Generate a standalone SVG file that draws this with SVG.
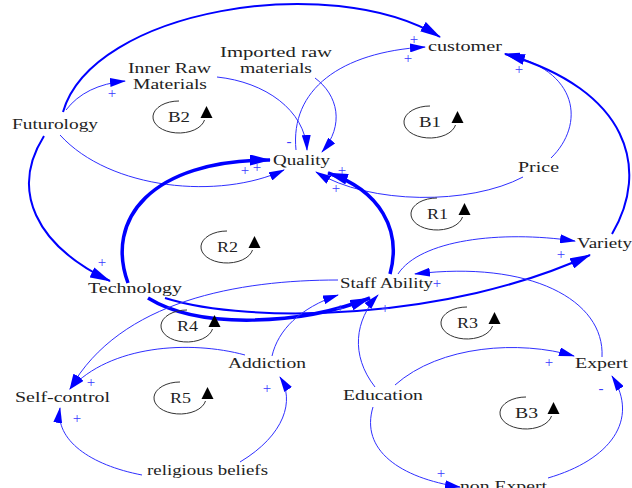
<svg xmlns="http://www.w3.org/2000/svg" xmlns:xlink="http://www.w3.org/1999/xlink" width="632" height="488" viewBox="0 0 632 488">
<style>
.lbl{font-family:"Liberation Serif","Times New Roman","DejaVu Serif",serif;font-size:14.5px;fill:#222}
.sign{font-family:"Liberation Serif","Times New Roman","DejaVu Serif",serif;font-size:15px;fill:#3a3aff;text-anchor:middle}
.c1{fill:none;stroke:#2f2fff;stroke-width:1}
.c2{fill:none;stroke:#0000ff;stroke-width:2}
.c3{fill:none;stroke:#0000ff;stroke-width:3.5}
.loop{fill:none;stroke:#333;stroke-width:1}
</style>
<defs>
<marker id="ah" markerUnits="userSpaceOnUse" markerWidth="16" markerHeight="9" refX="15" refY="4.5" orient="auto"><path d="M0,0 L16,4.5 L0,9 z" fill="#0000ff"/></marker>
<marker id="ahb" markerUnits="userSpaceOnUse" markerWidth="21" markerHeight="11" refX="20" refY="5.5" orient="auto"><path d="M0,0 L21,5.5 L0,11 z" fill="#0000ff"/></marker>
<g id="loopsym"><path class="loop" d="M0,-16 A26 16 0 1 0 25.5,3"/><path d="M27.5,-11 L21.5,1 L33.5,1 z" fill="#000"/></g>
</defs>
<rect width="632" height="488" fill="#fff"/>
<g id="connectors">
<path class="c2" d="M63,112 C92,10 330,-30 440,37" marker-end="url(#ahb)"/>
<path class="c1" d="M66,110 Q85,85 125,81" marker-end="url(#ah)"/>
<path class="c2" d="M44,136 C10,190 35,245 110,281" marker-end="url(#ahb)"/>
<path class="c1" d="M60,135 C110,190 220,200 284,170" marker-end="url(#ah)"/>
<path class="c1" d="M217,77 C265,82 305,110 307,150" marker-end="url(#ah)"/>
<path class="c1" d="M315,78 C338,95 345,125 322,152" marker-end="url(#ah)"/>
<path class="c1" d="M296,150 C290,90 340,52 425,47" marker-end="url(#ah)"/>
<path class="c1" d="M551,158 C585,125 580,70 505,54" marker-end="url(#ah)"/>
<path class="c2" d="M612,234 C650,170 630,90 505,54" marker-end="url(#ahb)"/>
<path class="c1" d="M523,177 C470,205 370,205 316,172" marker-end="url(#ah)"/>
<path class="c3" d="M128,283 C105,220 150,160 270,160" marker-end="url(#ahb)"/>
<path class="c3" d="M390,274 C402,230 380,190 328,173" marker-end="url(#ahb)"/>
<path class="c3" d="M148,298 C200,330 300,325 370,298" marker-end="url(#ahb)"/>
<path class="c2" d="M165,298 C250,325 450,320 590,255" marker-end="url(#ahb)"/>
<path class="c1" d="M398,274 C420,240 500,230 575,241" marker-end="url(#ah)"/>
<path class="c1" d="M602,357 C605,300 530,260 415,274" marker-end="url(#ah)"/>
<path class="c1" d="M272,356 C278,330 300,308 338,295" marker-end="url(#ah)"/>
<path class="c1" d="M375,387 C350,355 355,320 378,295" marker-end="url(#ah)"/>
<path class="c1" d="M338,280 C240,280 120,300 70,389" marker-end="url(#ah)"/>
<path class="c1" d="M245,355 C190,340 110,345 70,389" marker-end="url(#ah)"/>
<path class="c1" d="M142,475 C90,465 55,440 60,408" marker-end="url(#ah)"/>
<path class="c1" d="M240,462 C285,435 295,400 280,377" marker-end="url(#ah)"/>
<path class="c1" d="M395,385 C440,345 520,340 574,356" marker-end="url(#ah)"/>
<path class="c1" d="M373,407 C360,450 400,478 460,487" marker-end="url(#ah)"/>
<path class="c1" d="M548,478 C610,460 640,420 612,376" marker-end="url(#ah)"/>
</g>
<g id="signs">
<text class="sign" x="112" y="98">+</text>
<text class="sign" x="414" y="44">+</text>
<text class="sign" x="408" y="63">+</text>
<text class="sign" x="519" y="74">+</text>
<text class="sign" x="102" y="267">+</text>
<text class="sign" x="245" y="175">+</text>
<text class="sign" x="257" y="172">+</text>
<text class="sign" x="289" y="146">-</text>
<text class="sign" x="342" y="175">+</text>
<text class="sign" x="336" y="193">+</text>
<text class="sign" x="561" y="259">+</text>
<text class="sign" x="437" y="288">+</text>
<text class="sign" x="340" y="313">+</text>
<text class="sign" x="385" y="313">+</text>
<text class="sign" x="91" y="387">+</text>
<text class="sign" x="77" y="423">+</text>
<text class="sign" x="267" y="393">+</text>
<text class="sign" x="549" y="367">+</text>
<text class="sign" x="601" y="393">-</text>
<text class="sign" x="441" y="478">+</text>
</g>
<g id="loops">
<use xlink:href="#loopsym" x="179" y="117"/>
<use xlink:href="#loopsym" x="430" y="122"/>
<use xlink:href="#loopsym" x="437" y="214"/>
<use xlink:href="#loopsym" x="227" y="247"/>
<use xlink:href="#loopsym" x="187" y="326"/>
<use xlink:href="#loopsym" x="467" y="323"/>
<use xlink:href="#loopsym" x="180" y="398"/>
<use xlink:href="#loopsym" x="526" y="413"/>
<text class="lbl" x="168" y="122" textLength="22" lengthAdjust="spacingAndGlyphs">B2</text>
<text class="lbl" x="419" y="127" textLength="22" lengthAdjust="spacingAndGlyphs">B1</text>
<text class="lbl" x="427" y="219" textLength="21" lengthAdjust="spacingAndGlyphs">R1</text>
<text class="lbl" x="217" y="252" textLength="21" lengthAdjust="spacingAndGlyphs">R2</text>
<text class="lbl" x="177" y="331" textLength="21" lengthAdjust="spacingAndGlyphs">R4</text>
<text class="lbl" x="457" y="328" textLength="21" lengthAdjust="spacingAndGlyphs">R3</text>
<text class="lbl" x="170" y="403" textLength="21" lengthAdjust="spacingAndGlyphs">R5</text>
<text class="lbl" x="515" y="418" textLength="23" lengthAdjust="spacingAndGlyphs">B3</text>
</g>
<g id="customer"><text class="lbl" x="428" y="51" textLength="74" lengthAdjust="spacingAndGlyphs">customer</text></g>
<g id="inner-raw-materials"><text class="lbl" x="128" y="73" textLength="83" lengthAdjust="spacingAndGlyphs">Inner Raw</text><text class="lbl" x="133" y="89" textLength="74" lengthAdjust="spacingAndGlyphs">Materials</text></g>
<g id="imported-raw-materials"><text class="lbl" x="220" y="57" textLength="112" lengthAdjust="spacingAndGlyphs">Imported raw</text><text class="lbl" x="240" y="73" textLength="72" lengthAdjust="spacingAndGlyphs">materials</text></g>
<g id="futurology"><text class="lbl" x="12" y="129" textLength="86" lengthAdjust="spacingAndGlyphs">Futurology</text></g>
<g id="quality"><text class="lbl" x="273" y="165" textLength="57" lengthAdjust="spacingAndGlyphs">Quality</text></g>
<g id="price"><text class="lbl" x="518" y="172" textLength="41" lengthAdjust="spacingAndGlyphs">Price</text></g>
<g id="technology"><text class="lbl" x="88" y="293" textLength="94" lengthAdjust="spacingAndGlyphs">Technology</text></g>
<g id="staff-ability"><text class="lbl" x="340" y="288" textLength="93" lengthAdjust="spacingAndGlyphs">Staff Ability</text></g>
<g id="variety"><text class="lbl" x="577" y="248" textLength="55" lengthAdjust="spacingAndGlyphs">Variety</text></g>
<g id="addiction"><text class="lbl" x="228" y="368" textLength="78" lengthAdjust="spacingAndGlyphs">Addiction</text></g>
<g id="self-control"><text class="lbl" x="15" y="402" textLength="95" lengthAdjust="spacingAndGlyphs">Self-control</text></g>
<g id="education"><text class="lbl" x="343" y="400" textLength="80" lengthAdjust="spacingAndGlyphs">Education</text></g>
<g id="expert"><text class="lbl" x="575" y="368" textLength="53" lengthAdjust="spacingAndGlyphs">Expert</text></g>
<g id="religious-beliefs"><text class="lbl" x="147" y="475" textLength="121" lengthAdjust="spacingAndGlyphs">religious beliefs</text></g>
<g id="non-expert"><text class="lbl" x="460" y="491" textLength="87" lengthAdjust="spacingAndGlyphs">non Expert</text></g>
</svg>
